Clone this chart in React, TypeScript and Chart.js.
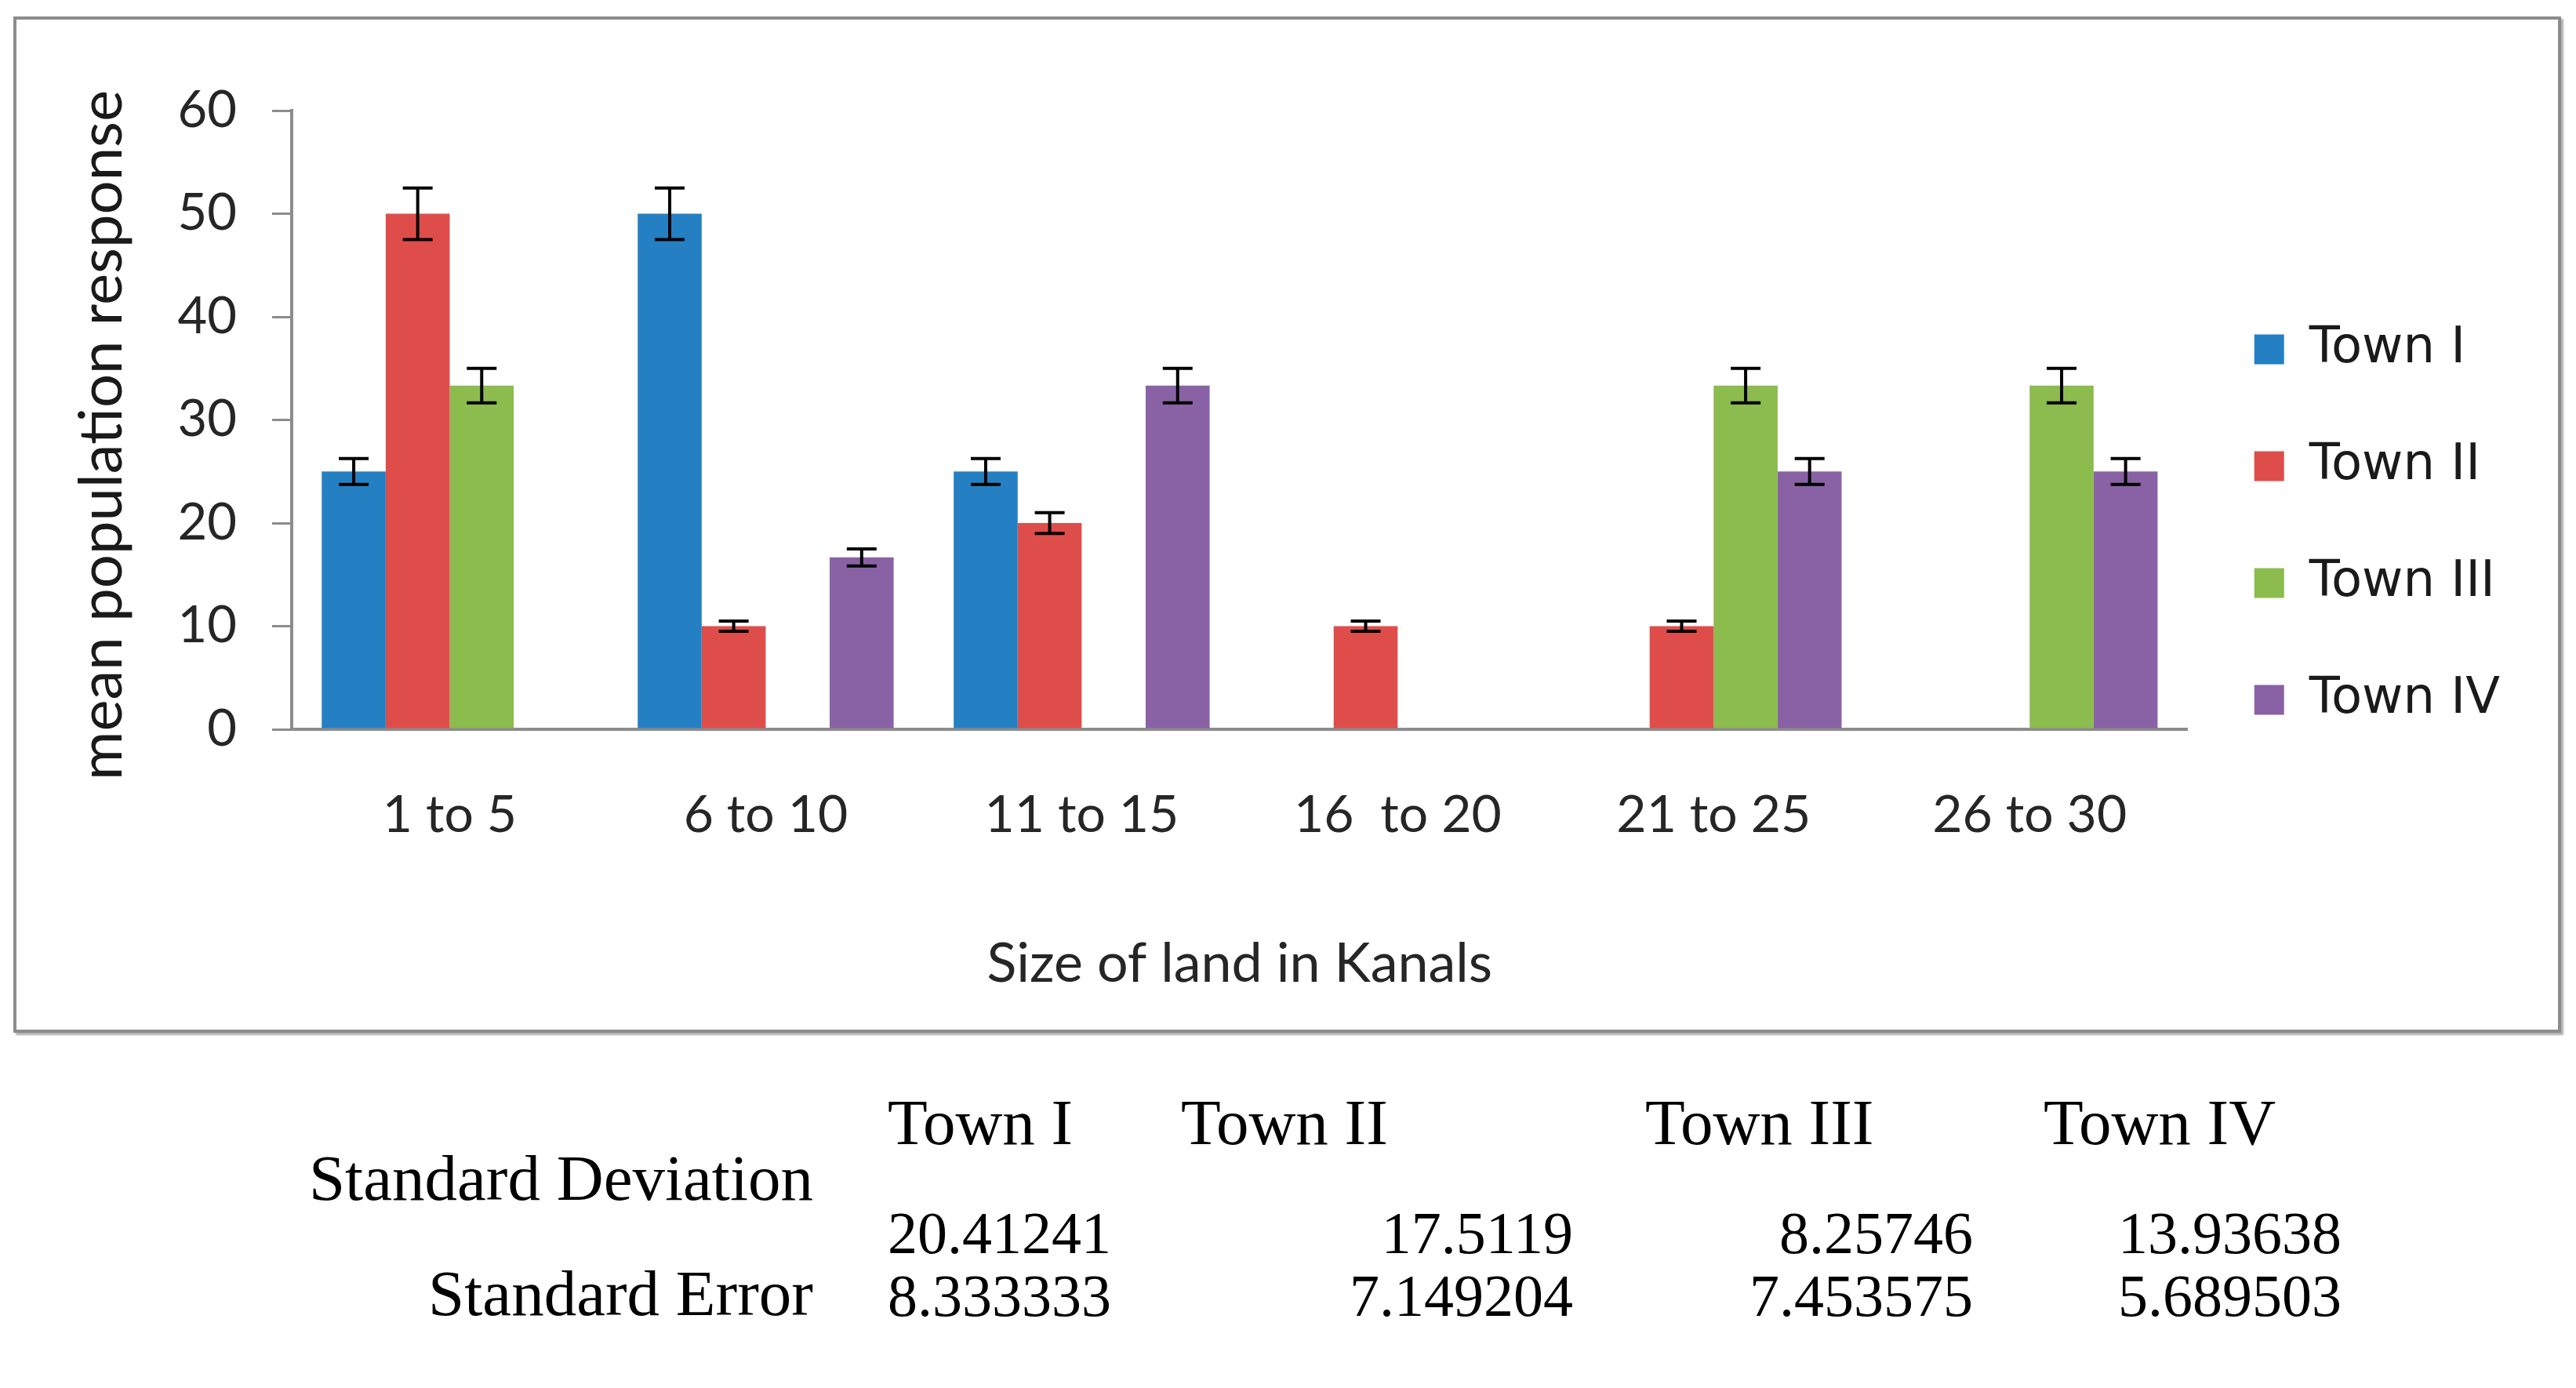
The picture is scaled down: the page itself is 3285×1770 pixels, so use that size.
import React, { useEffect, useRef } from "react";
import { Chart, registerables } from "chart.js";

Chart.register(...registerables);

// ---------- data ----------
const categories = ["1 to 5", "6 to 10", "11 to 15", "16  to 20", "21 to 25", "26 to 30"];
const seriesNames = ["Town I", "Town II", "Town III", "Town IV"];
const townI = [25, 50, 25, 0, 0, 0];
const townII = [50, 10, 20, 10, 10, 0];
const townIII = [33.33, 0, 0, 0, 33.33, 33.33];
const townIV = [0, 16.67, 33.33, 0, 25, 25];
const errI = [1.25, 2.5, 1.25, 0, 0, 0];
const errII = [2.5, 0.5, 1, 0.5, 0.5, 0];
const errIII = [1.67, 0, 0, 0, 1.67, 1.67];
const errIV = [0, 0.83, 1.67, 0, 1.25, 1.25];
const yMin = 0;
const yMax = 60;
const yStep = 10;
const yTitle = "mean population response";
const xTitle = "Size of land in Kanals";

const tableHeaders = ["Town I", "Town II", "Town III", "Town IV"];
const stdDevLabel = "Standard Deviation";
const stdErrLabel = "Standard Error";
const stdDev = ["20.41241", "17.5119", "8.25746", "13.93638"];
const stdErr = ["8.333333", "7.149204", "7.453575", "5.689503"];

// ---------- styles ----------
const colors = ["#2580C3", "#DF4D4B", "#8CBB4E", "#8962A5"];
const axisGrey = "#8c8c8c";
const tickFont = "Lato";
const legendFont = "DejaVu Sans";
const serif = "Liberation Serif";

const errorBarPlugin = {
  id: "errorBars",
  afterDatasetsDraw(chart: any) {
    const ctx = chart.ctx;
    const y = chart.scales.y;
    chart.data.datasets.forEach((ds: any, di: number) => {
      const meta = chart.getDatasetMeta(di);
      meta.data.forEach((bar: any, i: number) => {
        const v = ds.data[i];
        const e = ds.errors[i];
        if (!v || !e) return;
        const x = bar.x;
        const top = y.getPixelForValue(v + e);
        const bot = y.getPixelForValue(v - e);
        const half = 19;
        ctx.save();
        ctx.strokeStyle = "#000";
        ctx.lineWidth = 4;
        ctx.beginPath();
        ctx.moveTo(x, top);
        ctx.lineTo(x, bot);
        ctx.moveTo(x - half, top);
        ctx.lineTo(x + half, top);
        ctx.moveTo(x - half, bot);
        ctx.lineTo(x + half, bot);
        ctx.stroke();
        ctx.restore();
      });
    });
  },
};

function BarChart() {
  const ref = useRef<HTMLCanvasElement | null>(null);
  useEffect(() => {
    if (!ref.current) return;
    const seriesData = [townI, townII, townIII, townIV];
    const seriesErr = [errI, errII, errIII, errIV];
    const chart = new Chart(ref.current, {
      type: "bar",
      data: {
        labels: categories,
        datasets: seriesNames.map((name, i) => ({
          label: name,
          data: seriesData[i],
          errors: seriesErr[i],
          backgroundColor: colors[i],
          borderWidth: 0,
          categoryPercentage: 0.81,
          barPercentage: 1.0,
        })) as any,
      },
      options: {
        responsive: false,
        animation: false,
        devicePixelRatio: 1,
        layout: { padding: { left: 0, top: 0, bottom: 0, right: 64 } },
        plugins: {
          tooltip: { enabled: false },
          legend: {
            position: "right",
            align: "center",
            labels: {
              boxWidth: 38,
              boxHeight: 38,
              padding: 85,
              color: "#1a1a1a",
              font: { family: legendFont, size: 64 },
            },
          },
        },
        scales: {
          x: {
            grid: { display: false, drawTicks: false },
            border: { display: true, color: axisGrey, width: 4 },
            ticks: {
              color: "#262626",
              padding: 70,
              maxRotation: 0,
              autoSkip: false,
              font: { family: tickFont, size: 66 },
            },
            title: {
              display: true,
              text: xTitle,
              color: "#262626",
              font: { family: tickFont, size: 70 },
              padding: { top: 0, bottom: 42 },
            },
            afterFit: (s: any) => {
              s.height = 383;
            },
          },
          y: {
            min: yMin,
            max: yMax,
            ticks: {
              stepSize: yStep,
              color: "#262626",
              padding: 45,
              font: { family: tickFont, size: 65 },
            },
            grid: {
              display: true,
              drawOnChartArea: false,
              drawTicks: true,
              tickLength: 25,
              color: axisGrey,
              lineWidth: 3,
            },
            border: { display: true, color: axisGrey, width: 4 },
            title: {
              display: true,
              text: yTitle + "  ",
              color: "#1a1a1a",
              font: { family: tickFont, size: 76 },
              padding: { top: 64, bottom: 0 },
            },
            afterFit: (s: any) => {
              s.width = 351;
              s.paddingTop = 116;
            },
          },
        },
      },
      plugins: [errorBarPlugin],
    });
    return () => chart.destroy();
  }, []);
  return <canvas ref={ref} width={3241} height={1288} style={{ display: "block" }} />;
}

const txt = (s: string, size: number, style: React.CSSProperties, key?: string) => (
  <div
    key={key}
    style={{
      position: "absolute",
      fontFamily: serif,
      fontSize: size,
      lineHeight: size + "px",
      whiteSpace: "pre",
      color: "#000",
      ...style,
    }}
  >
    {s}
  </div>
);

export default function App() {
  useEffect(() => {
    document.body.style.margin = "0";
  }, []);
  const headerLeft = [1132, 1506, 2098, 2606];
  const valueRight = [1413, 2006, 2516, 2986];
  const labelSize = 83;
  const numSize = 76;
  return (
    <div style={{ position: "relative", width: 3285, height: 1770, background: "#fff", overflow: "hidden" }}>
      <div
        style={{
          position: "absolute",
          left: 17,
          top: 21,
          width: 3249,
          height: 1296,
          boxSizing: "border-box",
          border: `4px solid ${axisGrey}`,
          boxShadow: "3px 3px 2px #b0b0b0",
          background: "#fff",
        }}
      >
        <BarChart />
      </div>
      {tableHeaders.map((h, i) => txt(h, labelSize, { left: headerLeft[i], top: 1390 }, "h" + i))}
      {txt(stdDevLabel, labelSize, { right: 3285 - 1037, top: 1461 })}
      {stdDev.map((v, i) =>
        i === 0
          ? txt(v, numSize, { left: headerLeft[0], top: 1534 }, "d" + i)
          : txt(v, numSize, { right: 3285 - valueRight[i], top: 1534 }, "d" + i)
      )}
      {txt(stdErrLabel, labelSize, { right: 3285 - 1037, top: 1608 })}
      {stdErr.map((v, i) =>
        i === 0
          ? txt(v, numSize, { left: headerLeft[0], top: 1614 }, "e" + i)
          : txt(v, numSize, { right: 3285 - valueRight[i], top: 1614 }, "e" + i)
      )}
    </div>
  );
}
